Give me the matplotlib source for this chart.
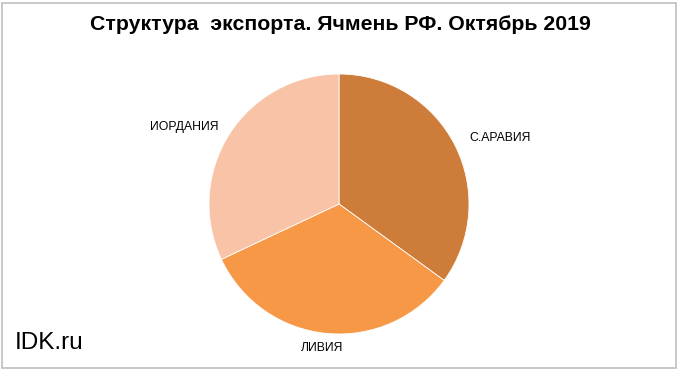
import matplotlib.pyplot as plt
from matplotlib.patches import Rectangle
import numpy as np

## Data
countries = ['С.АРАВИЯ', 'ЛИВИЯ', 'ИОРДАНИЯ']
shares = [35, 33, 32]
colors = ['#CD7C3A', '#F79847', '#F9C3A7']
title = 'Структура  экспорта. Ячмень РФ. Октябрь 2019'

plt.rcParams['font.family'] = ['Liberation Sans', 'DejaVu Sans']

W, H = 680, 374
fig = plt.figure(figsize=(W / 100, H / 100), dpi=100)

# outer frame
fig.patches.append(Rectangle((2 / W, 6 / H), 674 / W, 365 / H, transform=fig.transFigure,
                             fill=False, edgecolor='#BFBFBF', linewidth=1.2))

# pie axes: center (339, 204) px, radius 130 px
cx, cy, r = 339, 204, 130
ax = fig.add_axes([(cx - r) / W, (H - cy - r) / H, 2 * r / W, 2 * r / H])
wedges, texts = ax.pie(shares, colors=colors, startangle=90, counterclock=False,
                       labels=countries, labeldistance=1.2,
                       wedgeprops=dict(linewidth=0.6, edgecolor='white'),
                       textprops=dict(fontsize=8.8, color='#000000'))
ax.set_xlim(-1, 1)
ax.set_ylim(-1, 1)
ax.set_aspect('equal')

# label positions (px offsets from center, like Excel best fit)
label_px = {'С.АРАВИЯ': (161, 66), 'ЛИВИЯ': (-17, -144), 'ИОРДАНИЯ': (-155, 77)}
for t in texts:
    dx, dy = label_px[t.get_text()]
    t.set_position((dx / r, dy / r))
    t.set_ha('center')
    t.set_va('center')

fig.text(340 / W, 1 - 25 / H, title, ha='center', va='center',
         fontsize=15.3, fontweight='bold')
fig.text(15 / W, 1 - 343 / H, 'IDK.ru', ha='left', va='center', fontsize=17.5)

fig.savefig('out.png', dpi=100)
